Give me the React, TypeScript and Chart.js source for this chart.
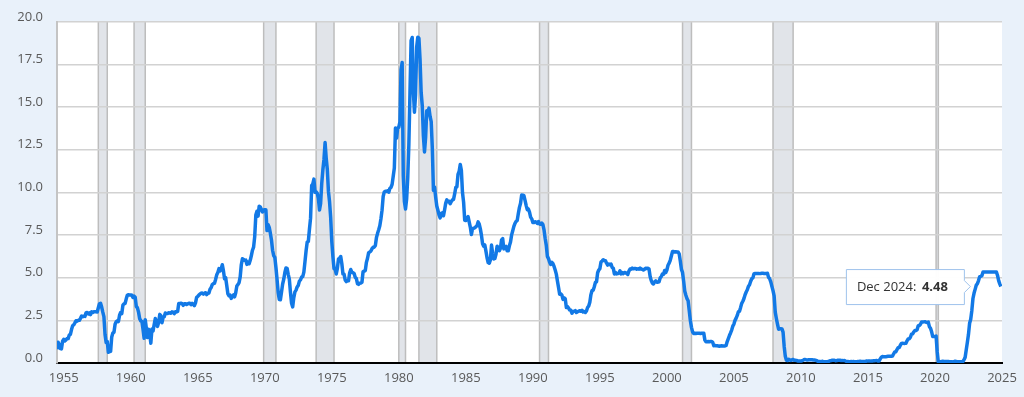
import React, { useEffect, useRef } from "react";
import { Chart, registerables } from "chart.js";

Chart.register(...registerables);

// Monthly effective federal funds rate, starting July 1954
const seriesStartYear = 1954.5;

const rates1950s = [
  0.8, 1.22, 1.07, 0.85, 0.83, 1.28,
  1.39, 1.29, 1.35, 1.43, 1.43, 1.64, 1.68, 1.96, 2.18, 2.24, 2.35, 2.48,
  2.45, 2.5, 2.5, 2.62, 2.75, 2.71, 2.75, 2.73, 2.95, 2.96, 2.88, 2.94,
  2.84, 3.0, 2.96, 3.0, 3.0, 3.0, 2.99, 3.24, 3.47, 3.5, 3.28, 2.98,
  2.72, 1.67, 1.2, 1.26, 0.63, 0.93, 0.68, 1.53, 1.76, 1.8, 2.27, 2.42,
  2.48, 2.43, 2.8, 2.96, 2.9, 3.39, 3.47, 3.5, 3.76, 3.98, 4.0, 3.99,
];
const rates1960s = [
  3.99, 3.97, 3.84, 3.92, 3.85, 3.32, 3.23, 2.98, 2.6, 2.47, 2.44, 1.98,
  1.45, 2.54, 2.02, 1.49, 1.98, 1.73, 1.16, 2.0, 1.88, 2.26, 2.61, 2.33,
  2.15, 2.37, 2.85, 2.78, 2.36, 2.68, 2.71, 2.93, 2.9, 2.9, 2.94, 2.93,
  2.92, 3.0, 2.98, 2.9, 3.0, 2.99, 3.02, 3.49, 3.48, 3.5, 3.48, 3.38,
  3.48, 3.48, 3.43, 3.47, 3.5, 3.5, 3.42, 3.5, 3.45, 3.36, 3.52, 3.85,
  3.9, 3.98, 4.04, 4.09, 4.1, 4.04, 4.09, 4.12, 4.01, 4.08, 4.1, 4.32,
  4.42, 4.6, 4.65, 4.67, 4.9, 5.17, 5.3, 5.53, 5.4, 5.53, 5.76, 5.4,
  4.94, 5.0, 4.53, 4.05, 3.94, 3.98, 3.79, 3.9, 3.99, 3.88, 4.12, 4.51,
  4.6, 4.71, 5.05, 5.76, 6.11, 6.07, 6.02, 6.03, 5.78, 5.91, 5.82, 6.02,
  6.3, 6.61, 6.79, 7.41, 8.67, 8.9, 8.61, 9.19, 9.15, 9.0, 8.85, 8.97,
];
const rates1970s = [
  8.98, 8.98, 7.76, 8.1, 7.95, 7.61, 7.21, 6.61, 6.29, 6.2, 5.6, 4.9,
  4.14, 3.72, 3.71, 4.16, 4.63, 4.91, 5.31, 5.57, 5.55, 5.2, 4.91, 4.14,
  3.5, 3.29, 3.83, 4.17, 4.27, 4.46, 4.55, 4.8, 4.87, 5.04, 5.06, 5.33,
  5.94, 6.58, 7.09, 7.12, 7.84, 8.49, 10.4, 10.5, 10.78, 10.01, 10.03, 9.95,
  9.65, 8.97, 9.35, 10.51, 11.31, 11.93, 12.92, 12.01, 11.34, 10.06, 9.45, 8.53,
  7.13, 6.24, 5.54, 5.49, 5.22, 5.55, 6.1, 6.14, 6.24, 5.82, 5.22, 5.2,
  4.87, 4.77, 4.84, 4.82, 5.29, 5.48, 5.31, 5.29, 5.25, 5.02, 4.95, 4.65,
  4.61, 4.68, 4.69, 4.73, 5.35, 5.39, 5.42, 5.9, 6.14, 6.47, 6.51, 6.56,
  6.7, 6.78, 6.79, 6.89, 7.36, 7.6, 7.81, 8.04, 8.45, 8.96, 9.76, 10.03,
  10.07, 10.06, 10.09, 10.01, 10.24, 10.29, 10.47, 10.94, 11.43, 13.77, 13.18, 13.78,
];
const rates1980s = [
  13.82, 14.13, 17.19, 17.61, 10.98, 9.47, 9.03, 9.61, 10.87, 12.81, 15.85, 18.9,
  19.08, 15.93, 14.7, 15.72, 18.52, 19.1, 19.04, 17.82, 15.87, 15.08, 13.31, 12.37,
  13.22, 14.78, 14.68, 14.94, 14.45, 14.15, 12.59, 10.12, 10.31, 9.71, 9.2, 8.95,
  8.68, 8.51, 8.77, 8.8, 8.63, 8.98, 9.37, 9.56, 9.45, 9.48, 9.34, 9.47,
  9.56, 9.59, 9.91, 10.29, 10.32, 11.06, 11.23, 11.64, 11.3, 9.99, 9.43, 8.38,
  8.35, 8.5, 8.58, 8.27, 7.97, 7.53, 7.88, 7.9, 7.92, 7.99, 8.05, 8.27,
  8.14, 7.86, 7.48, 6.99, 6.85, 6.92, 6.56, 6.17, 5.89, 5.85, 6.04, 6.91,
  6.43, 6.1, 6.13, 6.37, 6.85, 6.73, 6.58, 6.73, 7.22, 7.29, 6.69, 6.77,
  6.83, 6.58, 6.58, 6.87, 7.09, 7.51, 7.75, 8.01, 8.19, 8.3, 8.35, 8.76,
  9.12, 9.36, 9.85, 9.84, 9.81, 9.53, 9.24, 8.99, 9.02, 8.84, 8.55, 8.45,
];
const rates1990s = [
  8.23, 8.24, 8.28, 8.26, 8.18, 8.29, 8.15, 8.13, 8.2, 8.11, 7.81, 7.31,
  6.91, 6.25, 6.12, 5.91, 5.78, 5.9, 5.82, 5.66, 5.45, 5.21, 4.81, 4.43,
  4.03, 4.06, 3.98, 3.73, 3.82, 3.76, 3.25, 3.3, 3.22, 3.1, 3.09, 2.92,
  3.02, 3.03, 3.07, 2.96, 3.0, 3.04, 3.06, 3.03, 3.09, 2.99, 3.02, 2.96,
  3.05, 3.25, 3.34, 3.56, 4.01, 4.25, 4.26, 4.47, 4.73, 4.76, 5.29, 5.45,
  5.53, 5.92, 5.98, 6.05, 6.01, 6.0, 5.85, 5.74, 5.8, 5.76, 5.8, 5.6,
  5.56, 5.22, 5.31, 5.22, 5.24, 5.27, 5.4, 5.22, 5.3, 5.24, 5.31, 5.29,
  5.25, 5.19, 5.39, 5.51, 5.5, 5.56, 5.52, 5.54, 5.54, 5.5, 5.52, 5.5,
  5.56, 5.51, 5.49, 5.45, 5.49, 5.56, 5.54, 5.55, 5.51, 5.07, 4.83, 4.68,
  4.63, 4.76, 4.81, 4.74, 4.74, 4.76, 4.99, 5.07, 5.22, 5.2, 5.42, 5.3,
];
const rates2000s = [
  5.45, 5.73, 5.85, 6.02, 6.27, 6.53, 6.54, 6.5, 6.52, 6.51, 6.51, 6.4,
  5.98, 5.49, 5.31, 4.8, 4.21, 3.97, 3.77, 3.65, 3.07, 2.49, 2.09, 1.82,
  1.73, 1.74, 1.73, 1.75, 1.75, 1.75, 1.73, 1.74, 1.75, 1.75, 1.34, 1.24,
  1.24, 1.26, 1.25, 1.26, 1.26, 1.22, 1.01, 1.03, 1.01, 1.01, 1.0, 0.98,
  1.0, 1.01, 1.0, 1.0, 1.0, 1.03, 1.26, 1.43, 1.61, 1.76, 1.93, 2.16,
  2.28, 2.5, 2.63, 2.79, 3.0, 3.04, 3.26, 3.5, 3.62, 3.78, 4.0, 4.16,
  4.29, 4.49, 4.59, 4.79, 4.94, 4.99, 5.24, 5.25, 5.25, 5.25, 5.25, 5.24,
  5.25, 5.26, 5.26, 5.25, 5.25, 5.25, 5.26, 5.02, 4.94, 4.76, 4.49, 4.24,
  3.94, 2.98, 2.61, 2.28, 1.98, 2.0, 2.01, 2.0, 1.81, 0.97, 0.39, 0.16,
  0.15, 0.22, 0.18, 0.15, 0.18, 0.21, 0.16, 0.16, 0.15, 0.12, 0.12, 0.12,
];
const rates2010s = [
  0.11, 0.13, 0.16, 0.2, 0.2, 0.18, 0.18, 0.19, 0.19, 0.19, 0.19, 0.18,
  0.17, 0.16, 0.14, 0.1, 0.09, 0.09, 0.07, 0.1, 0.08, 0.07, 0.08, 0.07,
  0.08, 0.1, 0.13, 0.14, 0.16, 0.16, 0.16, 0.13, 0.14, 0.16, 0.16, 0.16,
  0.14, 0.15, 0.14, 0.15, 0.11, 0.09, 0.09, 0.08, 0.08, 0.09, 0.08, 0.09,
  0.07, 0.07, 0.08, 0.09, 0.09, 0.1, 0.09, 0.09, 0.09, 0.09, 0.09, 0.12,
  0.11, 0.11, 0.11, 0.12, 0.12, 0.13, 0.13, 0.14, 0.14, 0.12, 0.12, 0.24,
  0.34, 0.38, 0.36, 0.37, 0.37, 0.38, 0.39, 0.4, 0.4, 0.4, 0.41, 0.54,
  0.65, 0.66, 0.79, 0.9, 0.91, 1.04, 1.15, 1.16, 1.15, 1.15, 1.16, 1.3,
  1.41, 1.42, 1.51, 1.69, 1.7, 1.82, 1.91, 1.91, 1.95, 2.19, 2.2, 2.27,
  2.4, 2.4, 2.41, 2.42, 2.39, 2.38, 2.4, 2.13, 2.04, 1.83, 1.55, 1.55,
];
const rates2020s = [
  1.55, 1.58, 0.65, 0.05, 0.05, 0.08, 0.09, 0.1, 0.09, 0.09, 0.09, 0.09,
  0.09, 0.08, 0.07, 0.07, 0.06, 0.08, 0.1, 0.09, 0.08, 0.08, 0.08, 0.08,
  0.08, 0.08, 0.2, 0.33, 0.77, 1.21, 1.68, 2.33, 2.56, 3.08, 3.78, 4.1,
  4.33, 4.57, 4.65, 4.83, 5.06, 5.08, 5.12, 5.33, 5.33, 5.33, 5.33, 5.33,
  5.33, 5.33, 5.33, 5.33, 5.33, 5.33, 5.33, 5.33, 5.13, 4.83, 4.64, 4.48,
];

// Recession periods (decimal years: start, end)
const recessionStarts = [1957.583, 1960.25, 1969.917, 1973.833, 1980.0, 1981.5, 1990.5, 2001.167, 2007.917, 2020.083];
const recessionEnds = [1958.25, 1961.083, 1970.833, 1975.167, 1980.5, 1982.833, 1991.167, 2001.833, 2009.417, 2020.25];

const xTickYears = [1955, 1960, 1965, 1970, 1975, 1980, 1985, 1990, 1995, 2000, 2005, 2010, 2015, 2020, 2025];
const yTickValues = [0, 2.5, 5, 7.5, 10, 12.5, 15, 17.5, 20];

const tooltipDate = "Dec 2024:";
const tooltipValue = "4.48";

const allRates = [
  ...rates1950s, ...rates1960s, ...rates1970s, ...rates1980s,
  ...rates1990s, ...rates2000s, ...rates2010s, ...rates2020s,
];
const points = allRates.map((v, i) => ({ x: seriesStartYear + i / 12, y: v }));

const FONT = "'Open Sans', sans-serif";

const plotBgPlugin = {
  id: "plotBg",
  beforeDraw(chart: any) {
    const { ctx, chartArea, scales } = chart;
    const { left, top, right, bottom } = chartArea;
    ctx.save();
    ctx.fillStyle = "#ffffff";
    ctx.fillRect(left, top, right - left, bottom - top);
    ctx.beginPath();
    ctx.rect(left, top, right - left, bottom - top);
    ctx.clip();
    recessionStarts.forEach((s, i) => {
      const x0 = scales.x.getPixelForValue(s);
      const x1 = scales.x.getPixelForValue(recessionEnds[i]);
      ctx.fillStyle = "#e1e4e9";
      ctx.fillRect(x0, top, x1 - x0, bottom - top);
      ctx.strokeStyle = "#bdbdbd";
      ctx.lineWidth = 1.5;
      ctx.beginPath();
      ctx.moveTo(x0, top);
      ctx.lineTo(x0, bottom);
      ctx.moveTo(x1, top);
      ctx.lineTo(x1, bottom);
      ctx.stroke();
    });
    ctx.restore();
  },
};

const tooltipPlugin = {
  id: "fixedTooltip",
  afterDraw(chart: any) {
    const { ctx, scales } = chart;
    const last = points[points.length - 1];
    const px = scales.x.getPixelForValue(last.x);
    const py = scales.y.getPixelForValue(last.y);
    const tipX = px - 31;
    const caret = 6;
    const boxRight = tipX - caret;
    const boxW = 118;
    const boxH = 35;
    const boxLeft = boxRight - boxW;
    const boxTop = py - boxH / 2;
    ctx.save();
    ctx.fillStyle = "rgba(255,255,255,0.97)";
    ctx.strokeStyle = "#9fc3ec";
    ctx.lineWidth = 1;
    ctx.beginPath();
    ctx.moveTo(boxLeft + 0.5, boxTop + 0.5);
    ctx.lineTo(boxRight + 0.5, boxTop + 0.5);
    ctx.lineTo(boxRight + 0.5, py - 6);
    ctx.lineTo(tipX + 0.5, py);
    ctx.lineTo(boxRight + 0.5, py + 6);
    ctx.lineTo(boxRight + 0.5, boxTop + boxH + 0.5);
    ctx.lineTo(boxLeft + 0.5, boxTop + boxH + 0.5);
    ctx.closePath();
    ctx.fill();
    ctx.stroke();
    ctx.textBaseline = "middle";
    ctx.textAlign = "left";
    ctx.fillStyle = "#333333";
    ctx.font = `13px ${FONT}`;
    ctx.fillText(tooltipDate, boxLeft + 11, py + 1);
    ctx.font = `bold 13px ${FONT}`;
    ctx.fillText(tooltipValue, boxLeft + 76, py + 1);
    ctx.restore();
  },
};

export default function App() {
  const canvasRef = useRef<HTMLCanvasElement | null>(null);

  useEffect(() => {
    if (!canvasRef.current) return;
    const chart = new Chart(canvasRef.current, {
      type: "line",
      data: {
        datasets: [
          {
            data: points,
            borderColor: "#1279e6",
            borderWidth: 3.5,
            pointRadius: 0,
            tension: 0,
            borderJoinStyle: "round",
            fill: false,
          },
        ],
      },
      options: {
        animation: false,
        responsive: false,
        devicePixelRatio: 1,
        layout: { padding: { top: 18, right: 22, left: 0, bottom: 0 } },
        plugins: { legend: { display: false }, tooltip: { enabled: false } },
        events: [],
        scales: {
          x: {
            type: "linear",
            min: 1954.5,
            max: 2025,
            afterFit: (s: any) => {
              s.height = 34;
            },
            afterBuildTicks: (s: any) => {
              s.ticks = xTickYears.map((v) => ({ value: v }));
            },
            ticks: {
              autoSkip: false,
              maxRotation: 0,
              padding: 7,
              color: "#595959",
              font: { family: FONT, size: 13 },
              callback: (v: any) => String(v),
            },
            grid: { display: false, drawTicks: false },
            border: { display: true, color: "#000000", width: 2 },
          },
          y: {
            type: "linear",
            min: 0,
            max: 20,
            afterFit: (s: any) => {
              s.width = 57;
            },
            afterBuildTicks: (s: any) => {
              s.ticks = yTickValues.map((v) => ({ value: v }));
            },
            ticks: {
              padding: 14,
              labelOffset: -5,
              color: "#595959",
              font: { family: FONT, size: 13 },
              callback: (v: any) => Number(v).toFixed(1),
            },
            grid: { color: "#d2d2d2", lineWidth: 1.5, drawTicks: false },
            border: { display: true, color: "#c4c4c4", width: 2 },
          },
        },
      },
      plugins: [plotBgPlugin, tooltipPlugin],
    } as any);
    return () => chart.destroy();
  }, []);

  return (
    <div
      style={{
        position: "fixed",
        left: 0,
        top: 0,
        width: 1024,
        height: 397,
        background: "#e9f1fa",
      }}
    >
      <canvas ref={canvasRef} width={1024} height={397} style={{ display: "block" }} />
    </div>
  );
}
